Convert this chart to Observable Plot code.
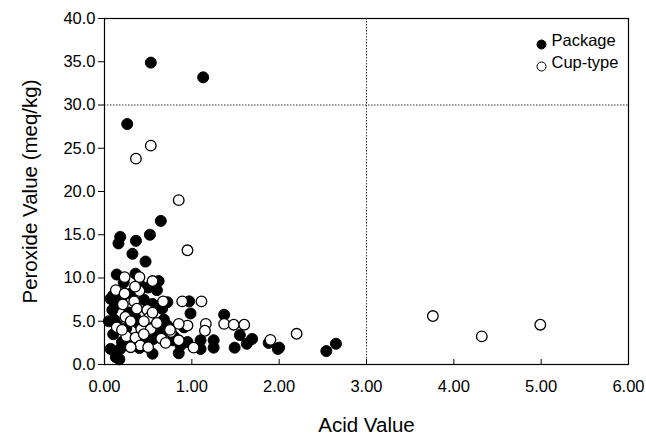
<!DOCTYPE html>
<html>
<head>
<meta charset="utf-8">
<script src="https://cdn.jsdelivr.net/npm/d3@7"></script>
<script src="https://cdn.jsdelivr.net/npm/@observablehq/plot@0.6"></script>
<style>
  html, body { margin: 0; padding: 0; background: #fff; }
  #chart svg { font-family: "Liberation Sans", Arial, sans-serif; }
</style>
</head>
<body>
<div id="chart"></div>
<script>
// Package (filled circles): [acid value, peroxide value]
const packageX = [0.53,1.13,0.26,0.645,0.18,0.52,0.36,0.16,0.32,0.47,0.14,0.355,0.62,0.41,0.60,0.07,0.72,0.97,0.09,0.66,0.985,1.37,0.11,0.91,0.72,0.78,0.56,1.55,1.10,1.25,1.69,1.63,1.88,2.00,0.87,1.10,1.25,1.49,0.07,0.18,0.13,0.55,1.985,2.54,2.65,
  0.10,0.20,0.30,0.45,0.12,0.28,0.50,0.35,0.15,0.25,0.60,0.10,0.30,0.45,0.20,0.65,0.85,0.17,0.38,0.55,0.80,0.05,0.22,0.50,0.68,0.95,0.40];
const packageY = [34.9,33.2,27.8,16.6,14.75,15.0,14.3,14.0,12.8,11.9,10.4,10.5,9.65,9.15,8.6,7.6,7.2,7.3,6.3,6.45,5.9,5.75,5.2,4.3,4.5,2.8,2.95,3.4,2.8,2.8,2.95,2.4,2.5,1.95,2.2,1.8,1.95,1.95,1.8,1.8,0.85,1.25,1.8,1.55,2.4,
  8.0,7.8,8.2,7.5,6.8,6.0,6.5,5.5,4.5,4.2,4.0,3.5,3.0,2.5,2.6,3.5,1.3,0.6,4.8,7.0,3.2,5.0,9.5,8.9,5.2,2.6,1.9];
// Cup-type (open circles)
const cupX = [0.53,0.36,0.85,0.95,0.23,0.40,0.55,0.13,0.23,0.34,0.67,0.89,1.11,0.21,0.37,0.49,0.24,0.51,1.16,1.37,1.48,1.60,0.95,0.14,0.42,0.53,0.76,0.25,0.355,1.90,2.20,1.02,0.41,3.76,4.32,4.99,
  0.30,0.45,0.60,0.65,0.50,0.30,0.20,0.40,0.55,0.75,0.85,0.70,0.45,1.15,0.85,0.35];
const cupY = [25.3,23.8,19.0,13.2,10.1,10.1,9.65,8.6,8.2,7.3,7.3,7.3,7.3,6.95,6.45,6.3,5.5,5.4,4.7,4.7,4.6,4.6,4.5,4.3,4.1,4.1,3.75,3.25,3.1,2.85,3.55,1.95,2.2,5.6,3.25,4.6,
  5.0,5.0,4.8,3.0,2.0,2.0,4.0,8.5,6.0,4.0,4.7,2.5,3.5,3.9,2.8,9.0];
const seriesNames = ["Package", "Cup-type"];
const xTicks = [0,1,2,3,4,5,6];
const yTicks = [0,5,10,15,20,25,30,35,40];
const refX = [3];
const refY = [30];

const pkg = packageX.map((x, i) => ({x, y: packageY[i]}));
const cup = cupX.map((x, i) => ({x, y: cupY[i]}));
const legend = seriesNames.map((name, i) => ({name, i}));

const font = "Liberation Sans, Arial, sans-serif";

// legend placement helpers (pixel offsets from the frame's top-right corner)
function legendRender(kind) {
  return (index, scales, values, dims, ctx, next) => {
    const g = next(index, scales, values, dims, ctx);
    const right = dims.width - dims.marginRight;
    const top = dims.marginTop;
    if (kind === "dot") {
      d3.select(g).selectAll("circle")
        .attr("cx", right - 87)
        .attr("cy", (i) => top + 26 + i * 22);
    } else {
      d3.select(g).selectAll("text")
        .attr("x", right - 77)
        .attr("y", (i) => top + 27 + i * 22)
        .attr("transform", null);
    }
    return g;
  };
}

const chart = Plot.plot({
  width: 646,
  height: 437,
  marginLeft: 104,
  marginRight: 18,
  marginTop: 18,
  marginBottom: 73,
  style: {fontFamily: font, fontSize: "16px", color: "#000", background: "#fff"},
  x: {domain: [0, 6]},
  y: {domain: [0, 40]},
  marks: [
    Plot.ruleX(refX, {stroke: "#333", strokeDasharray: "1.5,1.5", strokeWidth: 1}),
    Plot.ruleY(refY, {stroke: "#333", strokeDasharray: "1.5,1.5", strokeWidth: 1}),
    Plot.frame({stroke: "#000", strokeWidth: 1.2}),
    Plot.axisX({ticks: xTicks, tickFormat: d3.format(".2f"), tickSize: -5, tickPadding: 21, fontSize: 16.5, label: null, stroke: "#000"}),
    Plot.axisY({ticks: yTicks, tickFormat: d3.format(".1f"), tickSize: 6, tickPadding: 3, fontSize: 16.5, label: null, stroke: "#000"}),
    Plot.dot(pkg, {x: "x", y: "y", r: 5.5, fill: "#000", stroke: "#000", strokeWidth: 1}),
    Plot.dot(cup, {x: "x", y: "y", r: 5.3, fill: "#fff", stroke: "#000", strokeWidth: 1.3}),
    Plot.dot(legend, {frameAnchor: "top-right", r: 4.5,
      fill: (d) => d.i === 0 ? "#000" : "#fff", stroke: "#000", strokeWidth: 1,
      render: legendRender("dot")}),
    Plot.text(legend, {frameAnchor: "top-right", text: "name", textAnchor: "start", lineAnchor: "middle", fontSize: 16.5, fill: "#000",
      render: legendRender("text")}),
    Plot.text(["Acid Value"], {frameAnchor: "bottom", lineAnchor: "middle", dy: 61, fontSize: 20.5, fill: "#000"}),
    Plot.text(["Peroxide Value (meq/kg)"], {frameAnchor: "left", textAnchor: "middle", lineAnchor: "middle", dx: -74, rotate: -90, fontSize: 20.5, fill: "#000"})
  ]
});
document.getElementById("chart").appendChild(chart);
</script>
</body>
</html>
